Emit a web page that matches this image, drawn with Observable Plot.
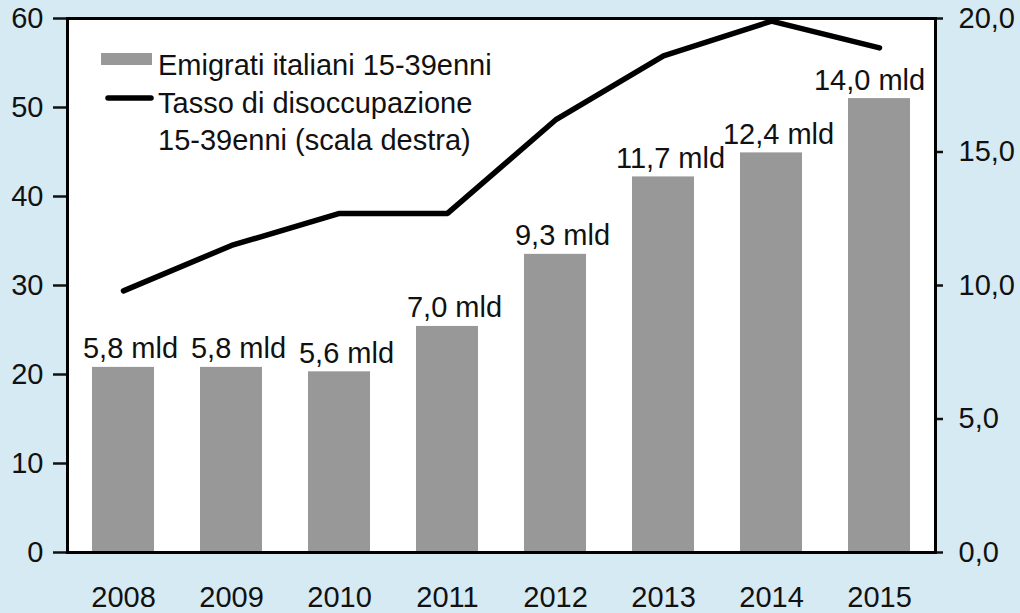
<!DOCTYPE html>
<html>
<head>
<meta charset="utf-8">
<script src="https://cdn.jsdelivr.net/npm/d3@7"></script>
<script src="https://cdn.jsdelivr.net/npm/@observablehq/plot@0.6"></script>
<style>
  html, body { margin: 0; padding: 0; background: #d6eaf3; }
  #chart { width: 1020px; height: 613px; }
  svg { font-family: "Liberation Sans", Arial, Helvetica, sans-serif; }
</style>
</head>
<body>
<div id="chart"></div>
<script>
// Data
const years = ["2008", "2009", "2010", "2011", "2012", "2013", "2014", "2015"];
const emigrati = [20.8, 20.8, 20.3, 25.4, 33.5, 42.2, 44.9, 51.0];      // left scale
const importi = [5.8, 5.8, 5.6, 7.0, 9.3, 11.7, 12.4, 14.0];           // "mld" labels
const disoccupazione = [9.8, 11.5, 12.7, 12.7, 16.2, 18.6, 19.9, 18.9]; // right scale
const leftTicks = [0, 10, 20, 30, 40, 50, 60];
const rightTicks = [0, 5, 10, 15, 20];
const legendLabels = ["Emigrati italiani 15-39enni", "Tasso di disoccupazione", "15-39enni (scala destra)"];

const rows = years.map((y, i) => ({year: y, emi: emigrati[i], mld: importi[i], dis: disoccupazione[i]}));
const ratio = 60 / 20;
const fmt = v => v.toFixed(1).replace(".", ",");
const lastYear = years[years.length - 1];

const barColor = "#989898";
const ink = "#111";

const plot = Plot.plot({
  width: 1020,
  height: 613,
  marginLeft: 67,
  marginRight: 85,
  marginTop: 18,
  marginBottom: 61,
  style: {background: "transparent", fontSize: "29px", fontFamily: "'Liberation Sans', Arial, sans-serif", color: ink},
  x: {domain: years, paddingInner: 0.43, paddingOuter: 0.215, label: null},
  y: {domain: [0, 60], label: null},
  marks: [
    Plot.frame({fill: "white", stroke: null}),
    Plot.barY(rows, {x: "year", y: "emi", fill: barColor}),
    Plot.text(rows.filter(d => d.year !== lastYear), {x: "year", y: "emi", text: d => fmt(d.mld) + " mld", lineAnchor: "bottom", dy: -9, dx: 7, fontSize: 29, fill: ink}),
    Plot.text(rows.filter(d => d.year === lastYear), {x: "year", y: "emi", text: d => fmt(d.mld) + " mld", lineAnchor: "bottom", dy: -9, dx: -10, fontSize: 29, fill: ink}),
    Plot.line(rows, {x: "year", y: d => d.dis * ratio, stroke: "black", strokeWidth: 5.5, strokeLinecap: "round", strokeLinejoin: "miter"}),
    Plot.axisY({anchor: "left", ticks: leftTicks, tickSize: 14, tickPadding: 10, tickFormat: d => String(d), strokeWidth: 2.5, fontSize: 29, label: null}),
    Plot.axisY({anchor: "right", ticks: rightTicks.map(v => v * ratio), tickSize: 7, tickPadding: 16, tickFormat: d => fmt(d / ratio), strokeWidth: 2.5, fontSize: 29, label: null}),
    Plot.axisX({anchor: "bottom", tickSize: 0, tickPadding: 34, fontSize: 29, label: null}),
    Plot.frame({stroke: "black", strokeWidth: 3})
  ]
});

document.getElementById("chart").appendChild(plot);

// Legend inside the plot frame
const svg = d3.select(plot);
const lg = svg.append("g").attr("font-size", 29).attr("fill", ink)
  .attr("text-anchor", "start")
  .attr("font-family", "'Liberation Sans', Arial, sans-serif");
lg.append("rect").attr("x", 101).attr("y", 53).attr("width", 51).attr("height", 12).attr("fill", barColor);
lg.append("line").attr("x1", 108).attr("x2", 151).attr("y1", 98).attr("y2", 98)
  .attr("stroke", "black").attr("stroke-width", 5.5).attr("stroke-linecap", "round");
lg.append("text").attr("x", 158).attr("y", 75).text(legendLabels[0]);
lg.append("text").attr("x", 158).attr("y", 113).text(legendLabels[1]);
lg.append("text").attr("x", 158).attr("y", 150).text(legendLabels[2]);
</script>
</body>
</html>
